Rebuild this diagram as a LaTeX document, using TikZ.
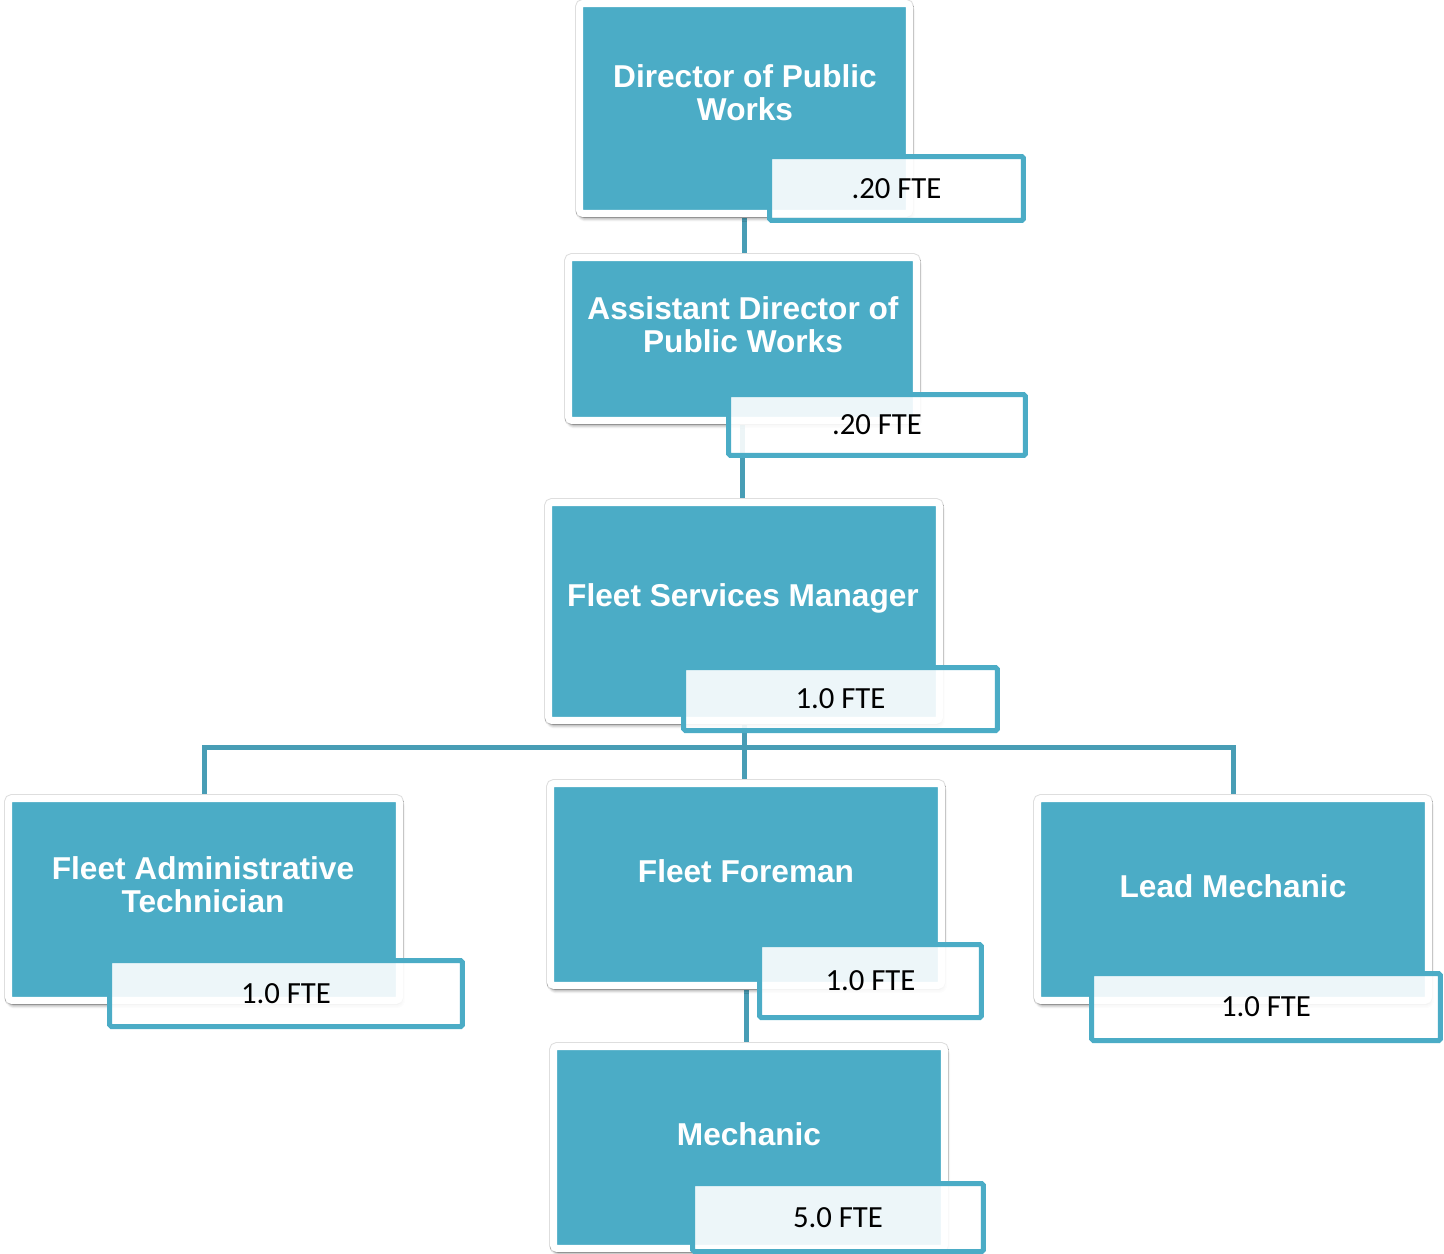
\documentclass[tikz,border=0pt]{standalone}
\usepackage{fontspec}
\setmainfont{Liberation Sans}
\newfontfamily\ftefont{Carlito}
\usepackage{xcolor}
\usepackage{tikz}
\usetikzlibrary{backgrounds, shadows.blur}
\definecolor{roleblue}{RGB}{75, 172, 198}
\definecolor{linkblue}{RGB}{72, 157, 181}

\begin{document}
\begin{tikzpicture}[
    x=0.02cm, y=-0.02cm,
    role/.style={draw=white, line width=0.14cm, fill=roleblue, rounded corners=2pt, inner sep=0pt,
                 preaction={draw=black!13, line width=0.18cm},
                 blur shadow={shadow xshift=0.8pt, shadow yshift=-2.2pt, shadow blur radius=2.4pt,
                              shadow blur steps=8, shadow opacity=60}},
    title/.style={text=white, align=center, font=\fontsize{18}{18.7}\selectfont\bfseries},
    fte/.style={draw=roleblue, line width=0.1cm, fill=white, fill opacity=0.9, text opacity=1,
                rounded corners=1pt, inner sep=0pt, font=\ftefont\fontsize{17.5}{20}\selectfont},
    link/.style={linkblue, line width=0.1cm}
]
    \useasboundingbox (0,0) rectangle (1444,1254);

    % top of the chain
    \node[role, minimum width=6.6cm, minimum height=4.2cm] (dir) at (744.5,108.5) {};
    \node[title] (dirtitle) at (745,93) {Director of Public\\Works};
    \node[fte, minimum width=5.08cm, minimum height=1.28cm] (dirfte) at (896.5,188.5) {.20 FTE};

    \node[role, minimum width=6.96cm, minimum height=3.26cm] (asst) at (742.5,339) {};
    \node[title] (assttitle) at (743,325) {Assistant Director of\\Public Works};
    \node[fte, minimum width=5.94cm, minimum height=1.22cm] (asstfte) at (877,425) {.20 FTE};

    \node[role, minimum width=7.82cm, minimum height=4.36cm] (fsm) at (744,611.5) {};
    \node[title] (fsmtitle) at (743,598) {Fleet Services Manager};
    \node[fte, minimum width=6.28cm, minimum height=1.26cm] (fsmfte) at (840.5,699) {1.0 FTE};

    % reports of the manager
    \node[role, minimum width=7.82cm, minimum height=4.04cm] (admin) at (204,899.5) {};
    \node[title] (admintitle) at (203,885) {Fleet Administrative\\Technician};
    \node[fte, minimum width=7.06cm, minimum height=1.32cm] (adminfte) at (286,993.5) {1.0 FTE};

    \node[role, minimum width=7.82cm, minimum height=4.04cm] (foreman) at (746,884.5) {};
    \node[title] (foremantitle) at (746,871) {Fleet Foreman};
    \node[fte, minimum width=4.44cm, minimum height=1.46cm] (foremanfte) at (870.5,981) {1.0 FTE};

    \node[role, minimum width=7.82cm, minimum height=4.04cm] (lead) at (1233,899.5) {};
    \node[title] (leadtitle) at (1233,886) {Lead Mechanic};
    \node[fte, minimum width=6.98cm, minimum height=1.34cm] (leadfte) at (1266,1007) {1.0 FTE};

    \node[role, minimum width=7.82cm, minimum height=4.04cm] (mech) at (749,1147.5) {};
    \node[title] (mechtitle) at (749,1134) {Mechanic};
    \node[fte, minimum width=5.82cm, minimum height=1.36cm] (mechfte) at (838,1217.5) {5.0 FTE};

    \begin{scope}[on background layer]
        \draw[link] (dir.south) -- (dir.south |- asst.north);
        \draw[link] (asst.south) -- (asst.south |- fsm.north);
        \draw[link] (fsm.south) -- (fsm.south |- foreman.north);
        \draw[link] (admin.north) -- ++(0,-47.5) -| (lead.north);
        \draw[link] (foreman.south) -- (foreman.south |- mech.north);
    \end{scope}
\end{tikzpicture}
\end{document}
